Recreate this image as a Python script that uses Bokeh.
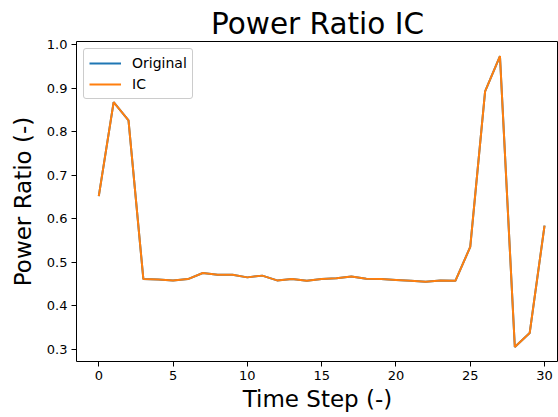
from bokeh.plotting import figure
from bokeh.models import Range1d, FixedTicker, Legend, LegendItem
from bokeh.embed import file_html
from bokeh.resources import INLINE

time_step = list(range(31))
original = [0.652, 0.868, 0.826, 0.461, 0.460, 0.458, 0.461, 0.475, 0.471, 0.471,
            0.465, 0.469, 0.458, 0.461, 0.457, 0.461, 0.463, 0.467, 0.462, 0.461,
            0.459, 0.457, 0.455, 0.458, 0.457, 0.535, 0.893, 0.974, 0.305, 0.337, 0.584]
ic = list(original)
x_ticks = [0, 5, 10, 15, 20, 25, 30]
y_ticks = [0.3, 0.4, 0.5, 0.6, 0.7, 0.8, 0.9, 1.0]

FONT = "DejaVu Sans"

p = figure(frame_width=482, frame_height=320, output_backend="svg", toolbar_location=None,
           x_range=Range1d(-1.5, 30.94), y_range=Range1d(0.2715, 1.0075),
           min_border_left=76, min_border_right=0, min_border_top=41, min_border_bottom=56)

l1 = p.line(time_step, original, line_color="#1f77b4", line_width=2)
l2 = p.line(time_step, ic, line_color="#ff7f0e", line_width=2)

p.title.text = "Power Ratio IC"
p.title.text_font = FONT
p.title.text_font_size = "29.5px"
p.title.text_font_style = "normal"
p.title.text_color = "black"
p.title.align = "center"
p.title.offset = 8
p.title.standoff = 2

p.xgrid.visible = False
p.ygrid.visible = False
p.outline_line_color = "black"
p.outline_line_width = 1
p.background_fill_color = "white"
p.border_fill_color = "white"

for ax in (p.xaxis[0], p.yaxis[0]):
    ax.axis_line_color = None
    ax.major_tick_line_color = "black"
    ax.major_tick_in = 0
    ax.major_tick_out = 5
    ax.minor_tick_line_color = None
    ax.major_label_text_font = FONT
    ax.major_label_text_font_size = "13px"
    ax.major_label_text_color = "black"
    ax.axis_label_text_font = FONT
    ax.axis_label_text_font_size = "23px"
    ax.axis_label_text_font_style = "normal"
    ax.axis_label_text_color = "black"

p.xaxis[0].ticker = FixedTicker(ticks=x_ticks)
p.yaxis[0].ticker = FixedTicker(ticks=y_ticks)
p.yaxis[0].major_label_overrides = {t: f"{t:.1f}" for t in y_ticks}
p.xaxis[0].axis_label = "Time Step (-)"
p.yaxis[0].axis_label = "Power Ratio (-)"
p.xaxis[0].major_label_standoff = 4
p.yaxis[0].major_label_standoff = 4
p.xaxis[0].axis_label_standoff = 3
p.yaxis[0].axis_label_standoff = 8

legend = Legend(items=[LegendItem(label="Original", renderers=[l1]),
                       LegendItem(label="IC", renderers=[l2])],
                location="top_left")
legend.label_text_font = FONT
legend.label_text_font_size = "14px"
legend.label_text_color = "black"
legend.border_line_color = "#cccccc"
legend.border_line_alpha = 1
legend.background_fill_alpha = 0.8
legend.glyph_width = 32
legend.glyph_height = 18
legend.label_height = 18
legend.label_standoff = 11
legend.padding = 5
legend.spacing = 3
legend.margin = 7
legend.border_radius = 3
p.add_layout(legend)

open("out.html", "w").write(file_html(p, INLINE))
